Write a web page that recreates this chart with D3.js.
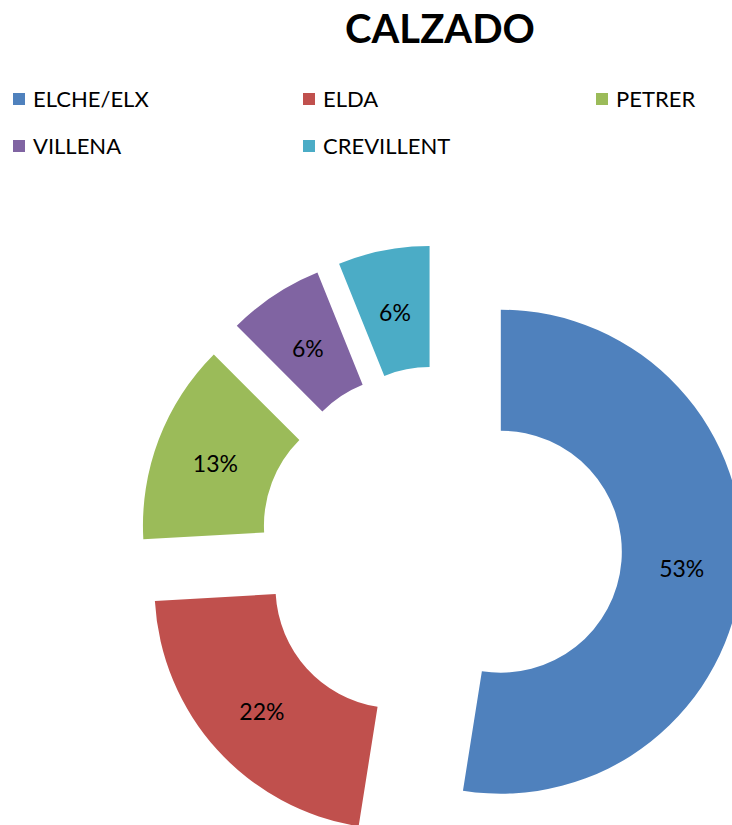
<!DOCTYPE html>
<html>
<head>
<meta charset="utf-8">
<script src="https://cdn.jsdelivr.net/npm/d3@7"></script>
<style>
  body { margin: 0; background: #fff; }
  svg { display: block; font-family: Lato, "Open Sans", sans-serif; }
</style>
</head>
<body>
<div id="chart"></div>
<script>
// Chart data
const title = 'CALZADO';
const cities = ['ELCHE/ELX', 'ELDA', 'PETRER', 'VILLENA', 'CREVILLENT'];
const shares = [52.5, 21.6, 13.4, 6.4, 6.1];
const colours = ['#4F81BD', '#C0504D', '#9BBB59', '#8064A2', '#4BACC6'];

const width = 732;
const height = 825;

const svg = d3.select('#chart')
  .append('svg')
  .attr('width', width)
  .attr('height', height);

// Title
svg.append('text')
  .attr('x', 440)
  .attr('y', 43)
  .attr('text-anchor', 'middle')
  .attr('font-size', '40px')
  .attr('font-weight', 'bold')
  .attr('fill', '#000')
  .text(title);

// Legend, 3 columns
const legend = svg.append('g')
  .selectAll('.legend-item')
  .data(cities)
  .enter()
  .append('g')
  .attr('class', 'legend-item')
  .attr('transform', (d, i) => `translate(${[13, 303, 596][i % 3]},${i < 3 ? 93 : 140})`);

legend.append('rect')
  .attr('width', 12)
  .attr('height', 12)
  .attr('fill', (d, i) => colours[i]);

legend.append('text')
  .attr('x', 20)
  .attr('y', 14)
  .attr('font-size', '22px')
  .attr('fill', '#000')
  .text((d) => d);

// Exploded doughnut
const cx = 441;
const cy = 547;
const outerR = 242;
const innerR = 121;
const explode = 60;

const pie = d3.pie().sort(null).value((d) => d);
const arc = d3.arc().innerRadius(innerR).outerRadius(outerR);
const slices = pie(shares);

const slice = svg.append('g')
  .attr('transform', `translate(${cx},${cy})`)
  .selectAll('.slice')
  .data(slices)
  .enter()
  .append('g')
  .attr('class', 'slice')
  .attr('transform', (d) => {
    const a = (d.startAngle + d.endAngle) / 2;
    return `translate(${explode * Math.sin(a)},${-explode * Math.cos(a)})`;
  });

slice.append('path')
  .attr('d', arc)
  .attr('fill', (d, i) => colours[i]);

// Percent labels at the middle of each ring segment
slice.append('text')
  .attr('transform', (d) => `translate(${arc.centroid(d)})`)
  .attr('text-anchor', 'middle')
  .attr('dy', '0.5em')
  .attr('font-size', '23px')
  .attr('fill', '#000')
  .text((d) => `${Math.round(d.value)}%`);
</script>
</body>
</html>
